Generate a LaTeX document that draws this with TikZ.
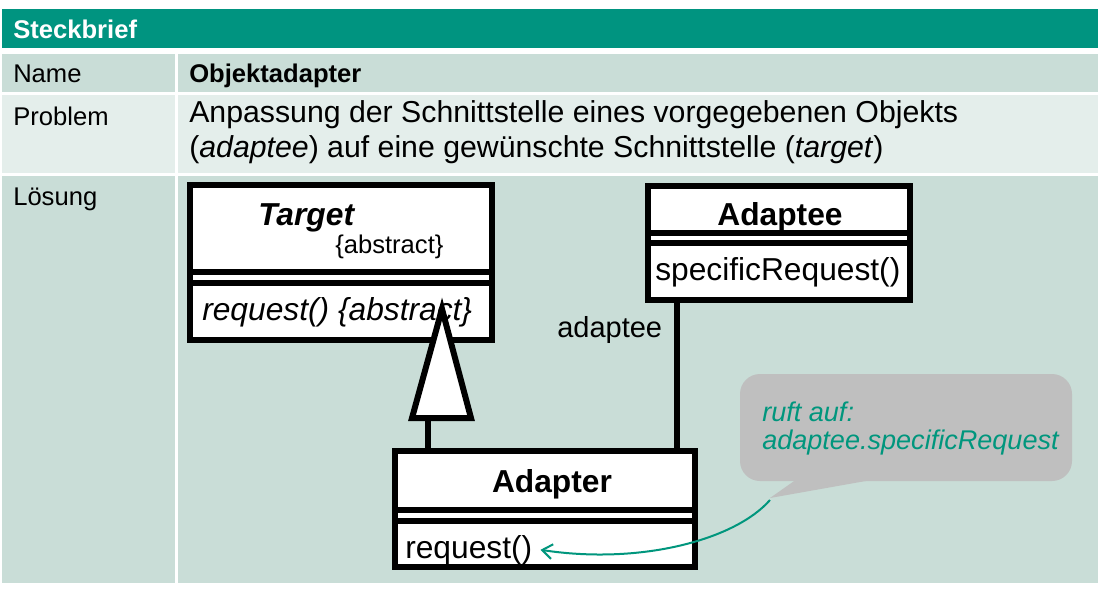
\documentclass[tikz,border=0pt]{standalone}
\usepackage{fontspec}
\setmainfont{Liberation Sans}
\usetikzlibrary{arrows.meta}
\definecolor{headteal}{RGB}{0,148,128}
\definecolor{rowdark}{RGB}{201,221,215}
\definecolor{rowlight}{RGB}{228,238,235}
\definecolor{notegray}{RGB}{191,191,191}
\definecolor{noteteal}{RGB}{0,150,125}
\newcommand\rowfont{\fontsize{19.2pt}{22pt}\selectfont}
\newcommand\probfont{\fontsize{22.7pt}{26pt}\selectfont}
\newcommand\umlfont{\fontsize{23.8pt}{27pt}\selectfont}
\newcommand\notefont{\fontsize{20.3pt}{23pt}\selectfont\itshape}
\begin{document}
\begin{tikzpicture}[x=0.75pt,y=-0.75pt]
    \tikzset{
        rowtext/.style={anchor=base west,inner sep=0,font=\rowfont},
        probtext/.style={anchor=base west,inner sep=0,font=\probfont},
        umltext/.style={anchor=base west,inner sep=0,font=\umlfont},
        umlbox/.style={draw,line width=4.5pt,fill=white,inner sep=0},
        umlline/.style={line width=4.5pt},
        notetext/.style={anchor=base west,inner sep=0,font=\notefont,text=noteteal}
    }
    \useasboundingbox (0,0) rectangle (1104,594);
    \fill[headteal] (2,9) rectangle (1098,48);
    \fill[rowdark] (2,54) rectangle (175,92);
    \fill[rowdark] (178,54) rectangle (1098,92);
    \fill[rowlight] (2,95) rectangle (175,173);
    \fill[rowlight] (178,95) rectangle (1098,173);
    \fill[rowdark] (2,176) rectangle (175,583);
    \fill[rowdark] (178,176) rectangle (1098,583);
    \node[rowtext,text=white,font=\rowfont\bfseries] (head) at (13,38) {Steckbrief};
    \node[rowtext] (namekey) at (13,82) {Name};
    \node[rowtext,font=\rowfont\bfseries] (nameval) at (189,82) {Objektadapter};
    \node[rowtext] (probkey) at (13,125) {Problem};
    \node[probtext] (probval1) at (189,122) {Anpassung der Schnittstelle eines vorgegebenen Objekts};
    \node[probtext] (probval2) at (189,157) {(\textit{adaptee}) auf eine gewünschte Schnittstelle (\textit{target})};
    \node[rowtext] (loskey) at (13,205) {Lösung};
    % classes
    \node[umlbox,minimum width=226.5pt,minimum height=116.25pt] (target) at (341,262.5) {};
    \node[umlbox,minimum width=196.5pt,minimum height=85.5pt] (adaptee) at (779,243) {};
    \node[umlbox,minimum width=225pt,minimum height=87pt] (adapter) at (545,509) {};
    \node[umltext,font=\umlfont\bfseries\itshape] (tname) at (258,225) {Target};
    \node[rowtext] (tabs) at (335,253) {\{abstract\}};
    \node[umltext,font=\umlfont\itshape] (treq) at (202,320) {request() \{abstract\}};
    \node[umltext,anchor=base,font=\umlfont\bfseries] (aename) at (780,225) {Adaptee};
    \node[umltext] (aereq) at (655,280) {specificRequest()};
    \node[umltext,anchor=base,font=\umlfont\bfseries] (adname) at (552,492) {Adapter};
    \node[umltext] (adreq) at (405,558) {request()};
    \node[umltext,font=\fontsize{21.75pt}{26pt}\selectfont] (role) at (557,337) {adaptee};
    \draw[umlline] (target.west |- 0,272) -- (target.east |- 0,272);
    \draw[umlline] (target.west |- 0,283) -- (target.east |- 0,283);
    \draw[umlline] (adaptee.west |- 0,233) -- (adaptee.east |- 0,233);
    \draw[umlline] (adaptee.west |- 0,243) -- (adaptee.east |- 0,243);
    \draw[umlline] (adapter.west |- 0,510) -- (adapter.east |- 0,510);
    \draw[umlline] (adapter.west |- 0,521) -- (adapter.east |- 0,521);
    % connectors
    \draw[umlline] (adaptee.south -| 677,0) -- (adapter.north -| 677,0);
    \coordinate (genbase) at (428,418);
    \draw[umlline] (adapter.north -| genbase) -- (genbase);
    \draw[umlline,fill=white] (412,418) -- (442,309) -- (471,418) -- cycle;
    % note
    \fill[notegray,rounded corners=15] (740,374) rectangle (1072,481);
    \fill[notegray] (797,479) -- (770,498) -- (877,479) -- cycle;
    \node[notetext] (note1) at (762,421) {ruft auf:};
    \node[notetext] (note2) at (762,449) {adaptee.specificRequest};
    \coordinate (tailtip) at (770,500);
    \draw[noteteal,line width=1.5pt,-{Straight Barb[length=7.5pt,width=11pt]}] (tailtip) .. controls (735,540) and (640,565) .. ([xshift=6pt]adreq.east);
\end{tikzpicture}
\end{document}
